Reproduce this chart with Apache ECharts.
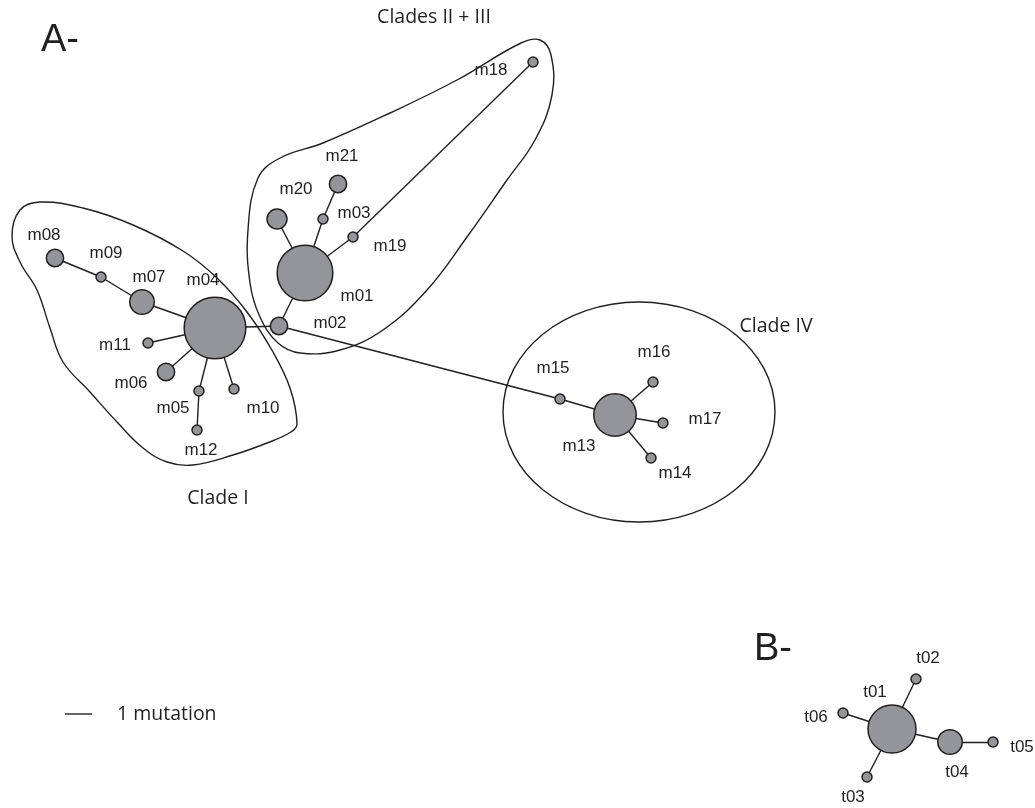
<!DOCTYPE html>
<html>
<head>
<meta charset="utf-8">
<script src="https://cdn.jsdelivr.net/npm/echarts@6/dist/echarts.min.js"></script>
<style>
  html, body { margin: 0; padding: 0; background: #fff; }
  #chart { width: 1035px; height: 808px; }
</style>
</head>
<body>
<div id="chart"></div>
<script>
// Haplotype networks: A (mitochondrial haplotypes m01-m21) and B (t01-t06)
const haplotypes = ['m01','m02','m03','m04','m05','m06','m07','m08','m09','m10','m11','m12',
                    'm13','m14','m15','m16','m17','m18','m19','m20','m21',
                    't01','t02','t03','t04','t05','t06'];
const posX = [305, 279, 323, 215, 199, 166, 142, 55, 101, 234, 148, 197,
              615, 651, 560, 653, 663, 533, 353, 277, 338,
              892, 916, 867, 950, 993, 843];
const posY = [273, 326, 219, 328, 391, 372, 302, 258, 277, 389, 343, 430,
              415, 458, 399, 382, 423, 62, 237, 219, 184,
              729, 679, 777, 742, 742, 713];
// number of individuals carrying each haplotype
const frequency = [31, 3, 1, 38, 1, 3, 6, 3, 1, 1, 1, 1,
                   18, 1, 1, 1, 1, 1, 1, 4, 3,
                   23, 1, 1, 6, 1, 1];
// one mutational step per link
const linkSource = ['m04','m07','m09','m04','m04','m04','m05','m04','m04','m02','m01','m01','m03','m01','m19','m02','m15','m13','m13','m13',
                    't01','t01','t01','t01','t04'];
const linkTarget = ['m07','m09','m08','m11','m06','m05','m12','m10','m02','m01','m20','m03','m21','m19','m18','m15','m13','m16','m17','m14',
                    't02','t06','t03','t04','t05'];

// clade outlines
const cladeI = [[12,236],[20,210],[40,202],[83,208],[133,225],[183,251],[217,278],[247,312],[273,352],[290,388],[297,424],[291,432],
                [267,443],[233,455],[193,465],[167,462],[143,448],[117,422],[90,392],[63,362],[50,328],[37,290],[20,262]];
const cladeIIIII = [[258,178],[280,158],[323,143],[390,113],[457,80],[521,43],[540,40],[551,55],[552,95],[535,140],[507,180],
                    [467,237],[427,290],[383,330],[340,350],[300,353],[278,343],[260,317],[250,283],[248,230]];
const cladeIV = { cx: 639, cy: 412, rx: 136, ry: 110 };

// label placement relative to each node centre
const labelOffset = {
  m01:[52,23], m02:[51,-3], m03:[31,-6], m04:[-12,-48], m05:[-26,17], m06:[-35,11], m07:[7,-25],
  m08:[-11,-23], m09:[5,-24], m10:[29,19], m11:[-33,2], m12:[4,20], m13:[-36,31], m14:[24,15],
  m15:[-7,-31], m16:[1,-30], m17:[42,-4], m18:[-42,8], m19:[37,9], m20:[19,-30], m21:[4,-28],
  t01:[-17,-37], t02:[12,-21], t03:[-14,20], t04:[7,30], t05:[29,5], t06:[-27,4]
};

const INK = '#231f20';
const FILL = '#939598';
const CAPTION_FONT = '19.5px "Open Sans", sans-serif';
const PANEL_FONT = '38px "Liberation Sans", Arial, sans-serif';

const nodes = haplotypes.map((name, i) => ({
  name: name,
  value: [posX[i], posY[i]],
  symbolSize: 2 * 5 * Math.sqrt(frequency[i]),
  label: { offset: labelOffset[name] }
}));
const links = linkSource.map((s, i) => ({ source: s, target: linkTarget[i] }));
const hulls = [cladeI, cladeIIIII];

const chart = echarts.init(document.getElementById('chart'), null, { renderer: 'canvas' });
chart.setOption({
  backgroundColor: '#ffffff',
  animation: false,
  grid: { left: 0, right: 0, top: 0, bottom: 0 },
  xAxis: { type: 'value', min: 0, max: 1035, show: false },
  yAxis: { type: 'value', min: 0, max: 808, inverse: true, show: false },
  series: [
    {
      type: 'custom',
      coordinateSystem: 'cartesian2d',
      silent: true,
      z: 1,
      data: hulls.map(h => h[0]),
      renderItem: function (params, api) {
        const pts = hulls[params.dataIndex].map(p => api.coord(p));
        return {
          type: 'polygon',
          shape: { points: pts, smooth: 0.4 },
          style: { fill: 'none', stroke: INK, lineWidth: 1.4 }
        };
      }
    },
    {
      type: 'custom',
      coordinateSystem: 'cartesian2d',
      silent: true,
      z: 1,
      data: [[cladeIV.cx, cladeIV.cy, cladeIV.rx, cladeIV.ry]],
      renderItem: function (params, api) {
        const c = api.coord([api.value(0), api.value(1)]);
        const s = api.size([api.value(2), api.value(3)]);
        return {
          type: 'ellipse',
          shape: { cx: c[0], cy: c[1], rx: s[0], ry: s[1] },
          style: { fill: 'none', stroke: INK, lineWidth: 1.4 }
        };
      }
    },
    {
      type: 'graph',
      coordinateSystem: 'cartesian2d',
      layout: 'none',
      roam: false,
      z: 2,
      symbol: 'circle',
      data: nodes,
      links: links,
      itemStyle: { color: FILL, borderColor: INK, borderWidth: 1.5 },
      lineStyle: { color: INK, width: 1.4, opacity: 1, curveness: 0 },
      label: {
        show: true,
        position: 'inside',
        formatter: '{b}',
        fontFamily: 'Liberation Sans, Arial, sans-serif',
        fontSize: 17,
        color: INK
      },
      emphasis: { disabled: true }
    }
  ],
  graphic: [
    { type: 'text', left: 41, top: 22, style: { text: 'A-', font: PANEL_FONT, fill: INK } },
    { type: 'text', left: 754, top: 631, style: { text: 'B-', font: PANEL_FONT, fill: INK } },
    { type: 'text', x: 434, y: 17, style: { text: 'Clades II + III', font: CAPTION_FONT, fill: INK, align: 'center', verticalAlign: 'middle' } },
    { type: 'text', x: 218, y: 498, style: { text: 'Clade I', font: CAPTION_FONT, fill: INK, align: 'center', verticalAlign: 'middle' } },
    { type: 'text', x: 776, y: 326, style: { text: 'Clade IV', font: CAPTION_FONT, fill: INK, align: 'center', verticalAlign: 'middle' } },
    { type: 'line', shape: { x1: 65, y1: 714, x2: 92, y2: 714 }, style: { stroke: INK, lineWidth: 1.4 } },
    { type: 'text', x: 117, y: 714, style: { text: '1 mutation', font: CAPTION_FONT, fill: INK, align: 'left', verticalAlign: 'middle' } }
  ]
});
</script>
</body>
</html>
